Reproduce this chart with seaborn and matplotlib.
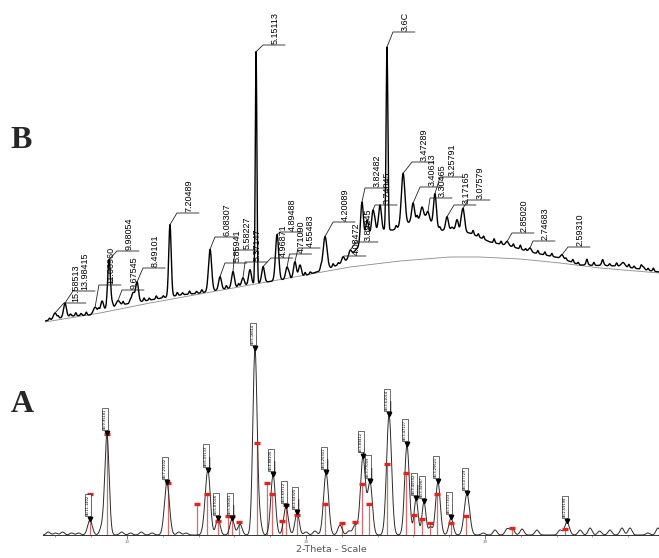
import numpy as np
import pandas as pd
import matplotlib
matplotlib.use("Agg")
import matplotlib.pyplot as plt
import seaborn as sns

sns.set_style("white")
plt.rcParams['font.family'] = ['DejaVu Sans']

# ---------------- pattern B (upper trace) ----------------
# peaks: 2-theta (deg), height above background, width (sigma, deg)
b_peak_pos = [5.71, 6.28, 8.00, 8.40, 8.80, 9.31, 10.17, 10.40, 12.28, 14.57, 15.14, 15.88,
              16.45, 16.85, 17.20, 17.60, 18.40, 18.97, 19.42, 19.71, 21.14, 22.17, 22.57,
              23.25, 23.54, 23.88, 24.28, 24.68, 25.60, 26.17, 26.68, 27.02, 27.42, 28.11,
              28.40, 28.68, 29.02, 31.54, 32.85, 34.68, 36.10, 37.00, 38.17, 39.30]
b_peak_amp = [6, 14, 6, 10, 49, 5, 10, 20, 72, 42, 13, 16,
              8, 15, 232, 16, 46, 12, 16, 12, 33, 6, 6,
              41, 18, 22, 25, 183, 52, 18, 11, 8, 32, 14,
              4, 12, 24, 4, 4, 4, 2, 3, 4, 3]
b_peak_wid = [0.09, 0.08, 0.10, 0.08, 0.08, 0.10, 0.09, 0.08, 0.07, 0.09, 0.08, 0.08,
              0.08, 0.08, 0.045, 0.08, 0.09, 0.08, 0.08, 0.08, 0.11, 0.08, 0.08,
              0.08, 0.08, 0.08, 0.08, 0.05, 0.10, 0.08, 0.08, 0.08, 0.08, 0.08,
              0.08, 0.08, 0.09, 0.08, 0.08, 0.08, 0.08, 0.08, 0.10, 0.08]
# jagged noise on trace B
b_bump_pos = [5.4, 5.9, 6.6, 6.9, 7.2, 7.5, 8.2, 9.0, 9.6, 10.0, 10.8, 11.1, 11.5, 11.9,
              12.7, 13.0, 13.4, 13.8, 14.1, 15.5, 16.2, 19.1, 20.0, 20.3, 20.9, 21.6, 21.9,
              24.0, 25.2, 26.4, 27.7, 28.9, 29.6, 29.9, 30.2, 30.8, 31.2, 31.9, 32.3, 32.6,
              33.3, 33.7, 34.1, 34.9, 35.3, 35.6, 36.1, 36.5, 37.0, 37.4, 37.8, 38.5, 38.8,
              39.2, 39.6, 39.9]
b_bump_amp = [2, 2, 2, 3, 2, 3, 3, 3, 3, 2, 3, 2, 3, 2,
              3, 2, 3, 2, 3, 3, 3, 3, 3, 2, 3, 3, 2,
              4, 3, 4, 3, 3, 4, 3, 3, 4, 3, 3, 4, 2,
              3, 3, 3, 2, 3, 2, 4, 3, 3, 2, 3, 3, 2,
              3, 2, 3]

# lower envelope of trace B
b_bg_pos = [5.14, 6.57, 7.71, 9.42, 11.14, 12.85, 14.00, 15.71, 17.42, 19.71, 21.42, 22.28,
            23.14, 24.00, 25.03, 26.00, 26.85, 27.71, 29.42, 30.57, 31.71, 32.85, 34.57,
            35.71, 38.00, 40.22]
b_bg_int = [9, 14, 15, 25, 30, 35, 37, 42, 47, 53, 62, 68,
            85, 100, 100, 108, 113, 100, 97, 88, 84, 78, 72,
            65, 64, 58]

# amorphous hump (thin grey curve)
b_hump_pos = [5.14, 8.28, 11.14, 14.00, 16.85, 19.71, 22.57, 25.42, 28.28, 30.00, 32.28,
              34.57, 36.85, 40.22]
b_hump_int = [8, 17, 27, 36, 45, 54, 63, 69, 73, 73, 71, 67, 62, 57]

# d-spacing labels of pattern B
b_lab_text = ["15.58513", "13.98415", "11.06960", "9.98054", "9.67545", "8.49101", "7.20489",
              "6.08307", "5.85941", "5.58227", "5.37147", "5.15113", "4.96871", "4.89488",
              "4.71090", "4.55483", "4.20089", "4.08472", "3.89245", "3.82482", "3.74845",
              "3.6C", "3.47289", "3.40613", "3.30465", "3.25791", "3.17165", "3.07579",
              "2.85020", "2.74683", "2.59310"]
b_lab_peak = [5.71, 6.28, 8.00, 8.80, 9.31, 10.40, 12.28, 14.57, 15.14, 15.88, 16.45, 17.20,
              17.60, 18.40, 18.97, 19.42, 21.14, 22.17, 22.57, 23.25, 23.88, 24.68, 25.60,
              26.17, 27.02, 27.42, 28.11, 29.02, 31.54, 32.85, 34.68]
# where each leader ends (shelf start, 2-theta) and the shelf height
b_shelf_x = [6.22, 6.74, 8.22, 9.25, 9.54, 10.74, 12.68, 14.85, 15.42, 16.00, 16.57, 17.60,
             18.05, 18.59, 19.11, 19.60, 21.60, 22.22, 22.91, 23.42, 24.00, 25.02, 26.11,
             26.57, 27.14, 27.71, 28.51, 29.31, 31.82, 33.02, 35.02]
b_shelf_y = [27, 39, 45, 79, 40, 62, 117, 93, 67, 80, 68, 285,
             72, 98, 76, 82, 108, 74, 88, 142, 125, 298, 168,
             143, 132, 153, 125, 130, 97, 89, 83]

# ---------------- pattern A (lower trace) ----------------
a_peak_pos = [7.93, 8.60, 8.88, 12.23, 14.36, 14.53, 15.08, 15.87, 16.31, 17.15, 17.43, 18.16,
              18.88, 19.50, 21.12, 21.90, 22.74, 23.18, 23.58, 24.64, 25.64, 26.15, 26.59,
              26.95, 27.37, 28.10, 28.99, 31.51, 34.58]
a_peak_amp = [15, 8, 100, 52, 12, 60, 16, 16, 11, 186, 12, 60,
              28, 22, 62, 10, 10, 78, 52, 120, 90, 36, 33,
              8, 53, 17, 41, 7, 13]
a_peak_wid = [0.13, 0.12, 0.12, 0.14, 0.12, 0.13, 0.12, 0.12, 0.12, 0.12, 0.10, 0.13,
              0.13, 0.12, 0.14, 0.12, 0.12, 0.14, 0.13, 0.14, 0.13, 0.11, 0.11,
              0.10, 0.13, 0.12, 0.15, 0.12, 0.13]
# small wiggles of the baseline
a_bump_pos = [5.6, 6.0, 6.4, 6.9, 7.3, 9.7, 10.2, 10.8, 11.4, 12.9, 13.3, 20.0, 20.5, 22.4,
              29.9, 30.56, 31.23, 32.07, 32.9, 34.19, 35.31, 35.87, 36.4, 36.98, 37.65, 38.1,
              39.1, 39.66]
a_bump_amp = [3, 2, 3, 2, 2, 3, 2, 3, 2, 3, 2, 3, 4, 4,
              2, 5, 6, 6, 5, 5, 5, 7, 4, 5, 7, 7,
              2, 7]

# reference sticks (red)
a_stick_pos = [7.93, 8.88, 12.29, 13.91, 14.47, 15.08, 15.64, 15.87, 16.26, 17.26, 17.82, 18.10,
               18.66, 18.88, 19.50, 21.06, 22.01, 22.74, 23.13, 23.52, 24.53, 25.59, 26.03,
               26.48, 26.93, 27.32, 28.10, 28.94, 31.51, 34.47]
a_stick_int = [41, 101, 52, 31, 41, 14, 19, 19, 13, 92, 52, 41,
               14, 30, 20, 31, 12, 13, 51, 31, 71, 62, 20,
               16, 12, 41, 12, 19, 7, 6]

# labelled peaks of pattern A
a_lab_pos = [7.93, 8.88, 12.23, 14.53, 15.08, 15.87, 17.15, 18.16, 18.88, 19.50, 21.12, 23.18,
             23.58, 24.64, 25.64, 26.15, 26.59, 27.37, 28.10, 28.99, 34.58]
a_lab_text = ["d=11.1402", "d=9.95181", "d=7.23102", "d=6.09133", "d=5.87016", "d=5.58001",
              "d=5.16614", "d=4.88100", "d=4.69712", "d=4.54925", "d=4.20301", "d=3.83412",
              "d=3.77009", "d=3.61014", "d=3.47127", "d=3.40502", "d=3.34987", "d=3.25621",
              "d=3.17303", "d=3.07729", "d=2.59198"]
a_ticks = [10, 20, 30]


def profile(x, pos, amp, wid):
    y = np.zeros_like(x)
    for p, a, w in zip(pos, amp, wid):
        y += a * np.exp(-0.5 * ((x - p) / w) ** 2)
    return y


tt = np.arange(5.0, 40.5, 0.01)
b_curve = (np.interp(tt, b_bg_pos, b_bg_int)
           + profile(tt, b_peak_pos, b_peak_amp, b_peak_wid)
           + profile(tt, b_bump_pos, b_bump_amp, [0.04] * len(b_bump_pos)))
a_curve = (profile(tt, a_peak_pos, a_peak_amp, a_peak_wid)
           + profile(tt, a_bump_pos, a_bump_amp, [0.11] * len(a_bump_pos)))
df_b = pd.DataFrame({"tt": tt, "I": b_curve})
df_a = pd.DataFrame({"tt": tt, "I": a_curve})
df_h = pd.DataFrame({"tt": b_hump_pos, "I": b_hump_int})

W, H = 659, 558
fig = plt.figure(figsize=(W / 100, H / 100), dpi=100)
fig.patch.set_facecolor("white")

# ---- upper panel (B) ----
axb = fig.add_axes([45 / W, (H - 330) / H, 614 / W, 330 / H])
b_px = 17.5  # pixels per degree
sns.lineplot(data=df_h, x="tt", y="I", ax=axb, color="#8a8a8a", linewidth=0.6,
             estimator=None, sort=False)
sns.lineplot(data=df_b, x="tt", y="I", ax=axb, color="black", linewidth=1.0,
             estimator=None, sort=False)
lab_font = ['Liberation Sans', 'DejaVu Sans']
for txt, pk, sx, sy in zip(b_lab_text, b_lab_peak, b_shelf_x, b_shelf_y):
    top = np.interp(pk, tt, b_curve)
    axb.plot([pk, sx, sx + 22 / b_px], [top, sy, sy], color="#222222", lw=0.6,
             clip_on=False)
    axb.text(sx + 12 / b_px, sy + 1, txt, rotation=90, ha="center", va="bottom",
             fontsize=6.5, family=lab_font, color="black", clip_on=False)
axb.set_xlim(5.14, 40.22)
axb.set_ylim(0, 330)
axb.axis("off")

# ---- lower panel (A) ----
axa = fig.add_axes([43 / W, 0, 616 / W, (H - 330) / H])
a_px = 17.9
axa.vlines(a_stick_pos, 0, a_stick_int, color="#d66b6b", lw=0.9, zorder=2)
axa.plot(a_stick_pos, a_stick_int, ls="none", marker="_", ms=5, mew=2.4,
         color="#e0251e", zorder=4)
sns.lineplot(data=df_a, x="tt", y="I", ax=axa, color="#2a2a2a", linewidth=0.7,
             estimator=None, sort=False, zorder=3)
for pk, txt in zip(a_lab_pos, a_lab_text):
    top = np.interp(pk, tt, a_curve)
    axa.plot([pk + 0.5 / a_px, pk + 0.5 / a_px], [top, top + 14], color="black", lw=1.0,
             zorder=5, clip_on=False)
    axa.plot(pk, top + 1, marker="v", ms=3.2, color="black", zorder=6, clip_on=False)
    axa.text(pk, top + 5, txt, rotation=90, ha="right", va="bottom", fontsize=2.6,
             color="black", zorder=6, clip_on=False,
             bbox=dict(boxstyle="square,pad=0.25", fc="white", ec="black", lw=0.4))
axa.set_xlim(5.307, 39.72)
axa.set_ylim(-23, 205)
sns.despine(ax=axa, left=True, top=True, right=True)
axa.spines["bottom"].set_position(("data", 0))
axa.spines["bottom"].set_linewidth(0.7)
axa.spines["bottom"].set_color("#333333")
axa.set_yticks([])
axa.set_xticks(a_ticks)
axa.set_xticklabels([str(t) for t in a_ticks], fontsize=3, color="#777777")
axa.set_xticks(np.arange(6, 40, 2), minor=True)
axa.tick_params(axis="x", which="major", direction="out", length=3, width=0.5,
                color="#444444", pad=0.5, bottom=True)
axa.tick_params(axis="x", which="minor", direction="out", length=1.5, width=0.4,
                color="#555555", bottom=True)
axa.set_xlabel("")
axa.set_ylabel("")
axa.patch.set_alpha(0)

fig.text(331 / W, 1 - 549.5 / H, "2-Theta - Scale", fontsize=6.8, color="#555555",
         ha="center", va="center")
fig.text(21 / W, 1 - 141 / H, "B", fontsize=23, fontweight="bold",
         family=["Liberation Serif", "DejaVu Serif"], ha="center", va="center")
fig.text(22 / W, 1 - 405 / H, "A", fontsize=23, fontweight="bold",
         family=["Liberation Serif", "DejaVu Serif"], ha="center", va="center")

fig.savefig("out.png", dpi=100)
